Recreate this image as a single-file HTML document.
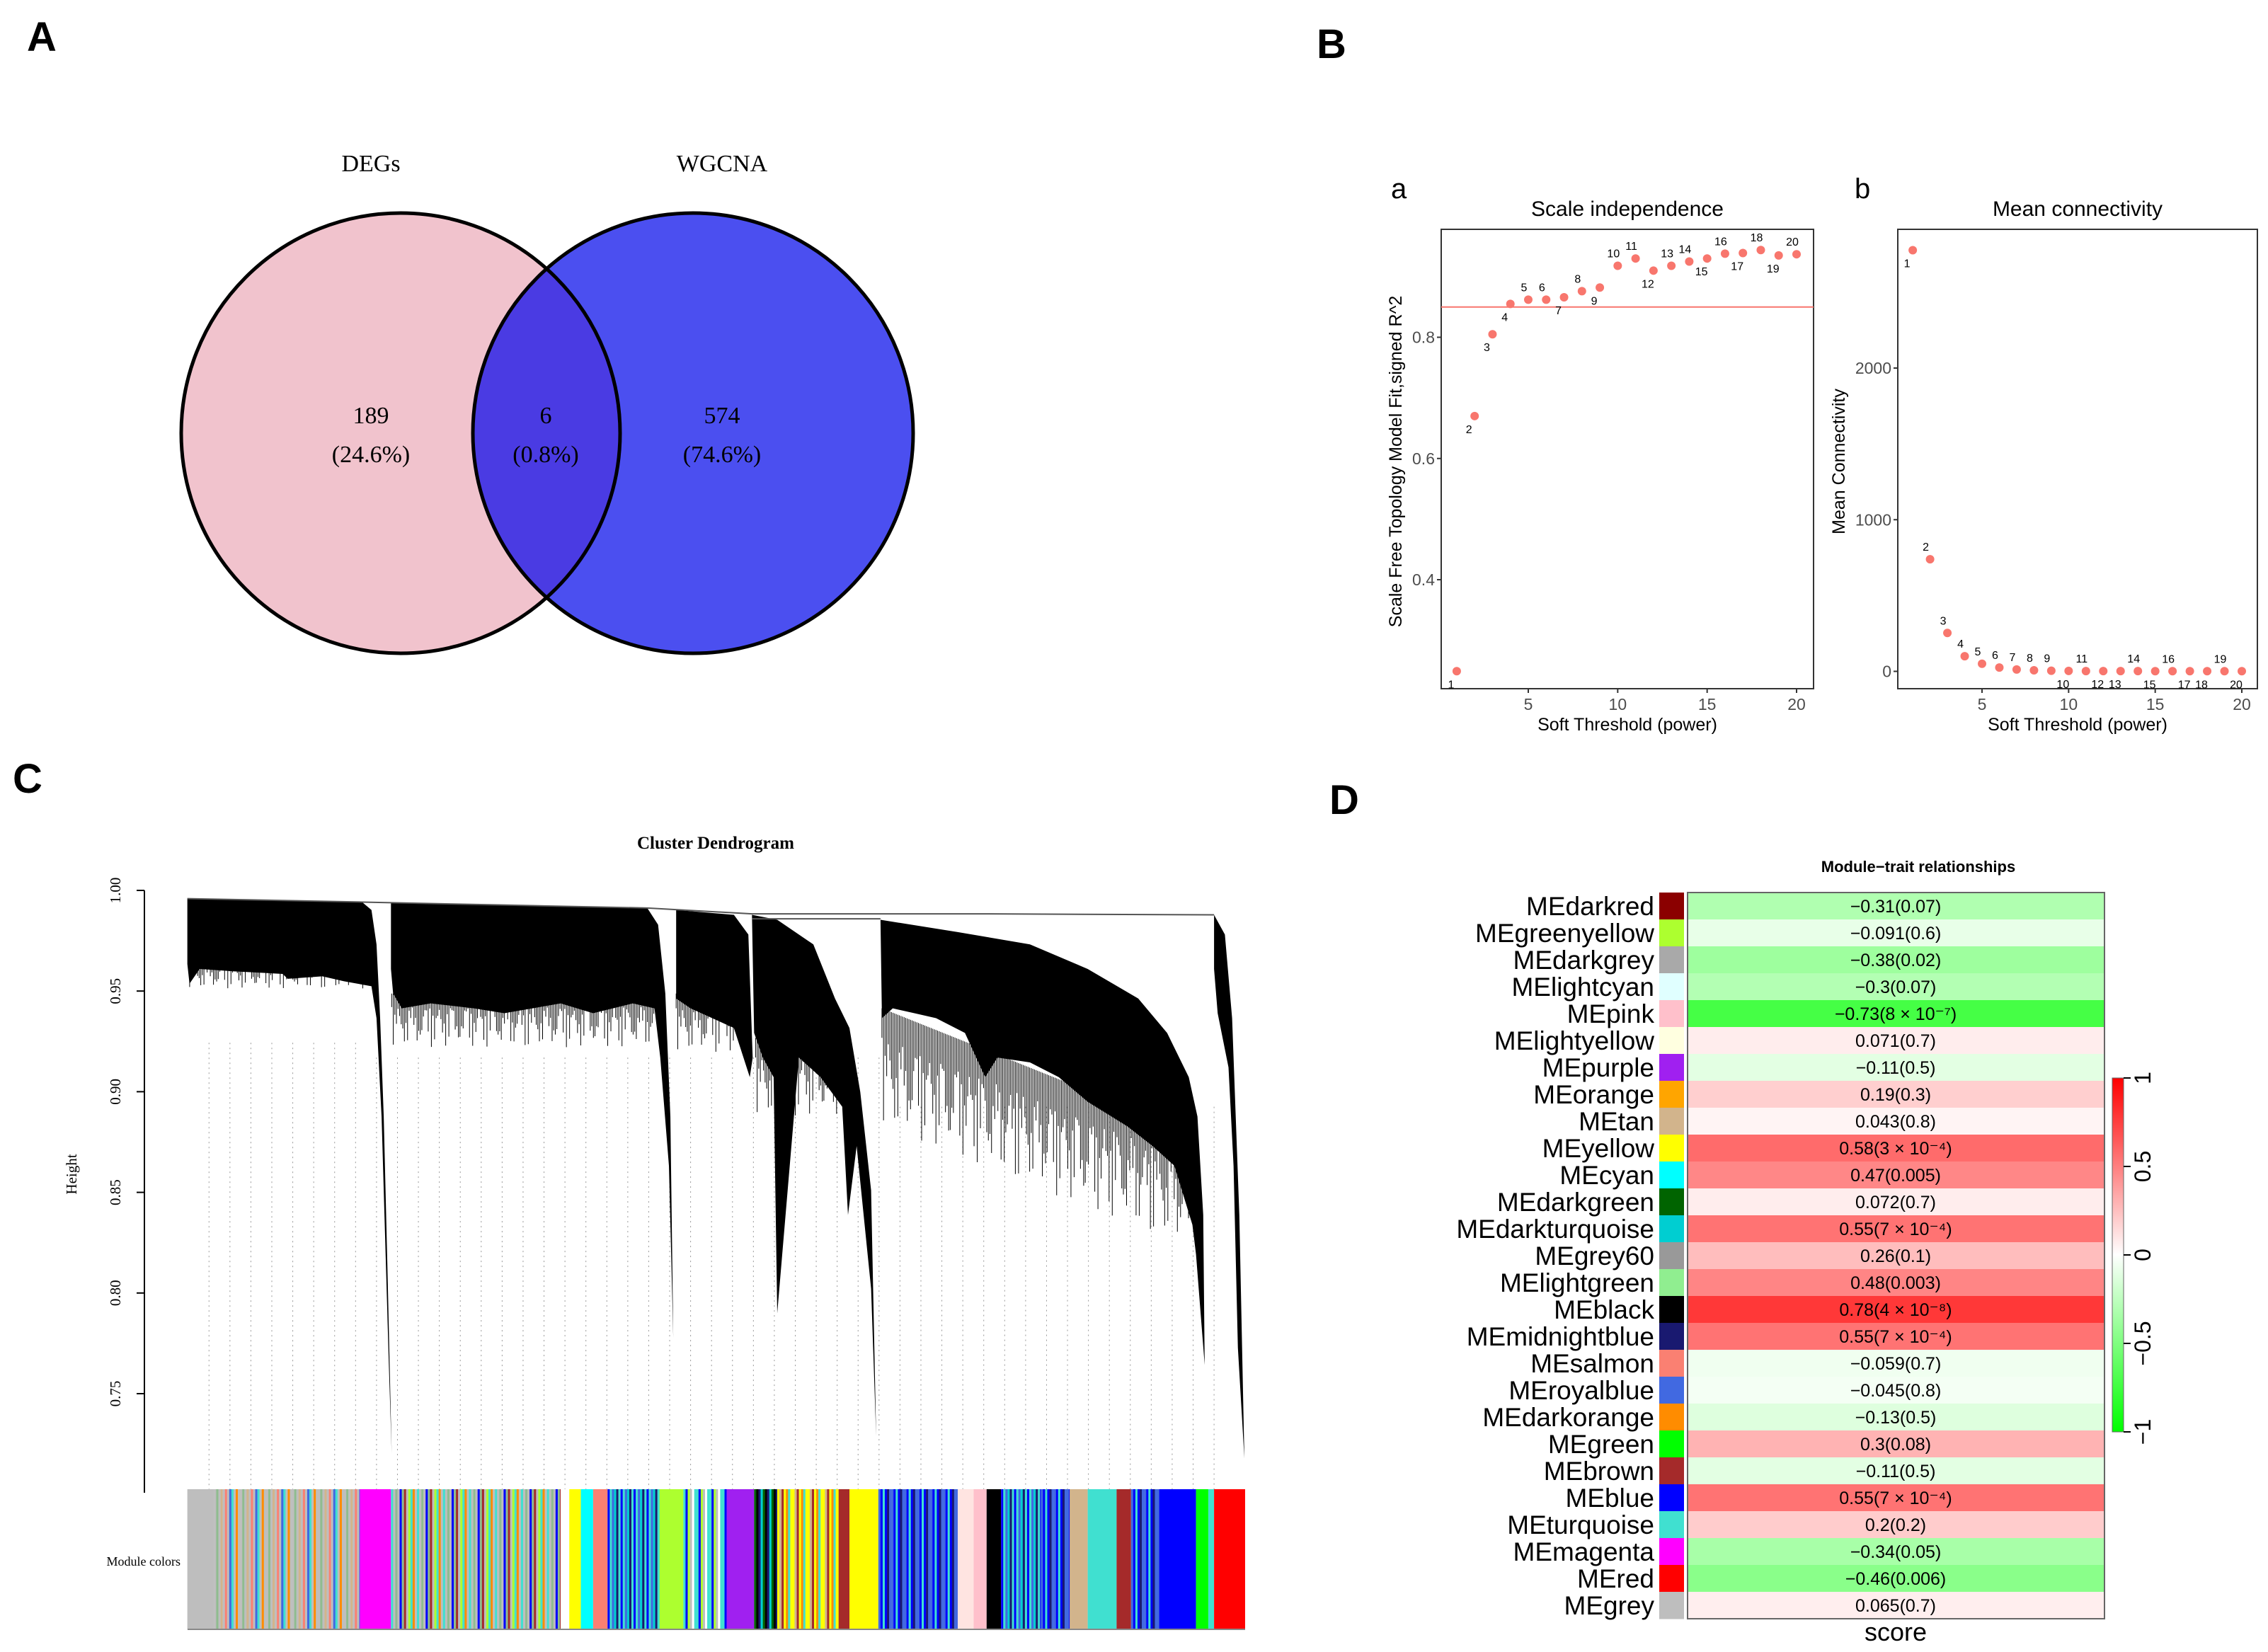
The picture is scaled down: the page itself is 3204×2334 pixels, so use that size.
<!DOCTYPE html>
<html><head><meta charset="utf-8"><style>
html,body{margin:0;padding:0;background:#fff}
svg{display:block}
.serif{font-family:"Liberation Serif",serif}
.sans{font-family:"Liberation Sans",sans-serif}
</style></head><body>
<svg id="fig" width="3204" height="2334" viewBox="0 0 3204 2334" xmlns="http://www.w3.org/2000/svg">
<rect width="3204" height="2334" fill="#fff"/>
<text x="38" y="72" class="sans" font-size="58" font-weight="bold">A</text>
<text x="1860" y="82" class="sans" font-size="58" font-weight="bold">B</text>
<text x="18" y="1120" class="sans" font-size="58" font-weight="bold">C</text>
<text x="1878" y="1150" class="sans" font-size="58" font-weight="bold">D</text>

<g>
<defs><clipPath id="clipL"><ellipse cx="566" cy="612" rx="310" ry="311"/></clipPath></defs>
<ellipse cx="566" cy="612" rx="310" ry="311" fill="#f1c3cd"/>
<ellipse cx="979" cy="612" rx="311" ry="311" fill="#4b4ff0"/>
<ellipse cx="979" cy="612" rx="311" ry="311" fill="#4a3be3" clip-path="url(#clipL)"/>
<ellipse cx="566" cy="612" rx="310" ry="311" fill="none" stroke="#000" stroke-width="5"/>
<ellipse cx="979" cy="612" rx="311" ry="311" fill="none" stroke="#000" stroke-width="5"/>
<g class="serif" font-size="34" text-anchor="middle">
<text x="524" y="242">DEGs</text>
<text x="1020" y="242">WGCNA</text>
<text x="524" y="598">189</text>
<text x="524" y="653">(24.6%)</text>
<text x="771" y="598">6</text>
<text x="771" y="653">(0.8%)</text>
<text x="1020" y="598">574</text>
<text x="1020" y="653">(74.6%)</text>
</g></g>

<g id="panelB"></g>

<g id="panelC">
<text x="1011" y="1199" class="serif" font-size="25" font-weight="bold" text-anchor="middle">Cluster Dendrogram</text>
<line x1="204" y1="1258" x2="204" y2="2109" stroke="#000" stroke-width="2"/>
<text transform="translate(108,1659) rotate(-90)" class="serif" font-size="21" text-anchor="middle">Height</text>
<text x="255" y="2212" class="serif" font-size="18" text-anchor="end">Module colors</text>
</g>

<g id="panelD">
<text x="2710" y="1232" class="sans" font-size="22" font-weight="bold" text-anchor="middle">Module−trait relationships</text>
<text x="2678" y="2318" class="sans" font-size="36" text-anchor="middle">score</text>
</g>
</svg>
<script>
var NS='http://www.w3.org/2000/svg';
function mk(tag,attrs,parent,txt){var e=document.createElementNS(NS,tag);for(var k in attrs)e.setAttribute(k,attrs[k]);if(txt!==undefined)e.textContent=txt;parent.appendChild(e);return e;}

/* ---------- Panel B data ---------- */
var powers=[1,2,3,4,5,6,7,8,9,10,11,12,13,14,15,16,17,18,19,20];
var sftR2=[0.249,0.670,0.805,0.855,0.862,0.862,0.866,0.876,0.882,0.918,0.930,0.910,0.918,0.925,0.930,0.938,0.939,0.944,0.935,0.937];
var meanK=[2777,739,253,100,50,25,12,7,4,3,2,2,2,2,1,1,1,1,1,1];
var r2Ticks=[0.4,0.6,0.8];
var kTicks=[0,1000,2000];
var xTicks=[5,10,15,20];
var r2Cut=[0.85];
var labA=[1,1,1,1,-1,-1,1,-1,1,-1,-1,1,-1,-1,1,-1,1,-1,1,-1];
var labB=[1,-1,-1,-1,-1,-1,-1,-1,-1,1,-1,1,1,-1,1,-1,1,1,-1,1];

var B=document.getElementById('panelB');
function scatter(o){
  var g=mk('g',{},B);
  
  
  var xs=function(v){return o.x0+(v-5)*(o.x20-o.x0)/15;};
  var ys=function(v){return o.yA+(v-o.vA)*(o.yB-o.yA)/(o.vB-o.vA);};
  mk('text',{x:o.lx,y:280,'font-size':40,class:'sans'},g,o.letter);
  var t=mk('text',{x:(o.bx1+o.bx2)/2,y:305,'font-size':30,class:'sans','text-anchor':'middle'},g,o.title);
  
  
  var r=mk('rect',{x:o.bx1,y:324,width:o.bx2-o.bx1,height:649,fill:'none',stroke:'#333','stroke-width':2},g);
  
  
  o.yt.forEach(function(v){var y=ys(v);
    mk('line',{x1:o.bx1-6,x2:o.bx1,y1:y,y2:y,stroke:'#333','stroke-width':2},g);
    var tt=mk('text',{x:o.bx1-9,y:y+8,'font-size':23,class:'sans',fill:'#4d4d4d','text-anchor':'end'},g,String(v));
    
    
  });
  xTicks.forEach(function(v){var x=xs(v);
    mk('line',{x1:x,x2:x,y1:973,y2:979,stroke:'#333','stroke-width':2},g);
    var tt=mk('text',{x:x,y:1003,'font-size':23,class:'sans',fill:'#4d4d4d','text-anchor':'middle'},g,String(v));
    
    
  });
  var xl=mk('text',{x:(o.bx1+o.bx2)/2,y:1032,'font-size':25,class:'sans','text-anchor':'middle'},g,'Soft Threshold (power)');
  
  
  var yl=mk('text',{transform:'translate('+o.ylx+','+o.yly+') rotate(-90)','font-size':25,class:'sans','text-anchor':'middle'},g,o.ytitle);
  
  
  if(o.cut){o.cut.forEach(function(c){var l=mk('line',{x1:o.bx1,x2:o.bx2,y1:ys(c),y2:ys(c),stroke:'#f8766d','stroke-width':2},g);
    
    });}
  powers.forEach(function(p,i){var x=xs(p),y=ys(o.vals[i]);
    var c=mk('circle',{cx:x,cy:y,r:6,fill:'#f8766d'},g);
    
    
    var d=o.lab[i];
    var lt=mk('text',{x:x-(d>0?8:6),y:y+(d>0?24:-12),'font-size':16,class:'sans','text-anchor':'middle'},g,String(p));
    
    
  });
}
scatter({name:'scale-independence-plot',letter:'a',lx:1965,title:'Scale independence',bx1:2036,bx2:2562,x0:2159,x20:2538,yA:476.5,vA:0.8,yB:819,vB:0.4,yt:r2Ticks,vals:sftR2,cut:r2Cut,lab:labA,ylx:1980,yly:652,ytitle:'Scale Free Topology Model Fit,signed R^2'});
scatter({name:'mean-connectivity-plot',letter:'b',lx:2620,title:'Mean connectivity',bx1:2681,bx2:3189,x0:2800,x20:3167,yA:948.5,vA:0,yB:520,vB:2000,yt:kTicks,vals:meanK,cut:null,lab:labB,ylx:2606,yly:652,ytitle:'Mean Connectivity'});

/* ---------- Panel C ---------- */
var heightTicks=[1.00,0.95,0.90,0.85,0.80,0.75];
var C=document.getElementById('panelC');
function hy(v){return 1258+(1.00-v)*(1969-1258)/0.25;}
heightTicks.forEach(function(v){var y=hy(v);
  mk('line',{x1:193,x2:204,y1:y,y2:y,stroke:'#000','stroke-width':2},C);
  var t=mk('text',{transform:'translate(170,'+y+') rotate(-90)','font-size':21,class:'serif','text-anchor':'middle'},C,v.toFixed(2));
  
  
});
var dg=mk('g',{transform:'matrix(1.02,0,0,0.695,180,1230)'},C);


for(var x=113;x<1525;x+=29){mk('line',{x1:x,x2:x,y1:(x<330?350:(x<1050?380:480)),y2:1262,stroke:'#999','stroke-width':1,'stroke-dasharray':'2,5','vector-effect':'non-scaling-stroke'},dg);}
var polys=[
'M83,57 L325,64 L338,80 L345,150 L350,300 L355,500 L360,800 L366,1185 L362,1000 L352,500 L345,300 L338,235 L300,225 L270,215 L222,220 L215,210 L150,205 L100,200 L86,230 L83,190 Z',
'M365,66 L720,76 L735,110 L745,250 L752,500 L756,950 L750,600 L738,380 L730,280 L700,270 L645,290 L600,270 L522,290 L480,280 L420,270 L380,280 L368,250 L365,200 Z',
'M760,80 L840,90 L860,130 L866,380 L862,420 L840,320 L810,300 L780,280 L760,260 Z',
'M865,90 L900,100 L950,150 L980,260 L1000,320 L1015,450 L1030,650 L1037,1150 L1030,850 L1010,560 L998,700 L990,480 L960,420 L930,380 L900,900 L895,420 L880,380 L868,330 Z',
'M1043,100 L1150,125 L1250,150 L1330,200 L1400,260 L1440,330 L1470,420 L1482,500 L1490,700 L1492,1005 L1480,780 L1475,720 L1450,600 L1420,560 L1385,520 L1330,470 L1290,420 L1250,390 L1205,380 L1188,420 L1160,330 L1120,300 L1090,290 L1060,280 L1045,300 Z',
'M1505,90 L1520,130 L1530,300 L1535,500 L1540,700 L1547,1195 L1538,970 L1532,600 L1525,400 L1510,290 L1505,200 Z'];
polys.forEach(function(d){var p=mk('path',{d:d,fill:'#000'},dg);
  
  });
/* leaf hairlines hanging below the dense branch masses */
var hair=mk('g',{stroke:'#000','stroke-width':1,'vector-effect':'non-scaling-stroke'},dg);
var bands=[[84,330,200,60],[366,735,270,110],[760,862,270,120],[870,1000,360,160],[1045,1470,300,240]];
bands.forEach(function(b){var k=0;for(var x=b[0];x<b[1];x+=2.2,k++){var L=b[3]*(0.25+0.75*Math.abs(Math.sin(k*1.7)*Math.cos(k*0.37)));var t=b[2]+(x-b[0])/(b[1]-b[0])*(b[0]>1000?250:0)-20;mk('line',{x1:x,x2:x,y1:t,y2:t+L,'vector-effect':'non-scaling-stroke'},hair);}});
mk('polyline',{points:'83,57 325,64 520,70 720,76 865,88 1190,88 1505,90',fill:'none',stroke:'#555','stroke-width':2,'vector-effect':'non-scaling-stroke'},dg);
mk('line',{x1:865,x2:1043,y1:98,y2:98,stroke:'#555','stroke-width':2,'vector-effect':'non-scaling-stroke'},dg);

var segStart=[83,120,322,365,600,612,628,645,665,737,770,830,868,900,985,1000,1040,1150,1172,1190,1210,1265,1305,1330,1370,1390,1430,1480,1497,1505];
var segColor=['#bebebe','mix1','#ff00ff','mix2','#ffffff','#ffff00','#00ffff','#fa8072','mix3','#adff2f','mix4','#a020f0','mix5','mix6','#a52a2a','#ffff00','mix7','#ffe4e1','#ffc0cb','#000000','mix3','mix7','#d2b48c','#40e0d0','#a52a2a','mix7','#0000ff','#00ff00','#40e0d0','#ff0000'];
var mixes={mix1:['#bebebe','#8fbc8f','#bebebe','#d2b48c','#bebebe','#fa8072','#bebebe','#4169e1','#40e0d0','#bebebe','#ff8c00','#bebebe'],
mix2:['#40e0d0','#bebebe','#8fbc8f','#bebebe','#0000ff','#8fbc8f','#a52a2a','#bebebe','#adff2f','#40e0d0','#ff8c00','#bebebe'],
mix3:['#0000ff','#40e0d0','#4169e1','#00ced1','#191970','#40e0d0'],
mix4:['#40e0d0','#0000ff','#adff2f','#bebebe','#ffffff','#40e0d0'],
mix5:['#006400','#000000','#191970','#00ced1'],
mix6:['#ffff00','#d2b48c','#a52a2a','#ffff00','#ff8c00','#40e0d0','#ffff00'],
mix7:['#4169e1','#0000ff','#40e0d0','#0000ff','#191970','#4169e1']};
var cb=mk('g',{},C);


function bx(z){return 180+1.02*z;}
segStart.forEach(function(s,i){var e=i+1<segStart.length?segStart[i+1]:1548;var c=segColor[i];
  if(mixes[c]){var arr=mixes[c],k=0;for(var z=s;z<e;z+=3,k++){mk('rect',{x:bx(z),y:2104,width:3.2*1.02,height:198,fill:arr[k%arr.length]},cb);}}
  else{var r=mk('rect',{x:bx(s),y:2104,width:(e-s)*1.02,height:198,fill:c},cb);
    
    }
});
mk('line',{x1:265,x2:1759,y1:2302,y2:2302,stroke:'#888','stroke-width':2},cb);

/* ---------- Panel D ---------- */
var modules=['MEdarkred','MEgreenyellow','MEdarkgrey','MElightcyan','MEpink','MElightyellow','MEpurple','MEorange','MEtan','MEyellow','MEcyan','MEdarkgreen','MEdarkturquoise','MEgrey60','MElightgreen','MEblack','MEmidnightblue','MEsalmon','MEroyalblue','MEdarkorange','MEgreen','MEbrown','MEblue','MEturquoise','MEmagenta','MEred','MEgrey'];
var moduleColors=['#8b0000','#adff2f','#a9a9a9','#e0ffff','#ffc0cb','#ffffe0','#a020f0','#ffa500','#d2b48c','#ffff00','#00ffff','#006400','#00ced1','#999999','#90ee90','#000000','#191970','#fa8072','#4169e1','#ff8c00','#00ff00','#a52a2a','#0000ff','#40e0d0','#ff00ff','#ff0000','#bebebe'];
var corr=[-0.31,-0.091,-0.38,-0.3,-0.73,0.071,-0.11,0.19,0.043,0.58,0.47,0.072,0.55,0.26,0.48,0.78,0.55,-0.059,-0.045,-0.13,0.3,-0.11,0.55,0.2,-0.34,-0.46,0.065];
var pvals=['0.07','0.6','0.02','0.07','8 × 10⁻⁷','0.7','0.5','0.3','0.8','3 × 10⁻⁴','0.005','0.7','7 × 10⁻⁴','0.1','0.003','4 × 10⁻⁸','7 × 10⁻⁴','0.7','0.8','0.5','0.08','0.5','7 × 10⁻⁴','0.2','0.05','0.006','0.7'];
var cbTicks=[1,0.5,0,-0.5,-1];
var D=document.getElementById('panelD');
function col(v){var a=Math.min(1,Math.abs(v));var w=Math.round(255*(1-a));return v<0?'rgb('+w+',255,'+w+')':'rgb(255,'+w+','+w+')';}
var hmTop=1261,rh=(2287-1261)/modules.length;
modules.forEach(function(m,i){var y=hmTop+i*rh;
  var c=mk('rect',{x:2384,y:y,width:589,height:rh+0.5,fill:col(corr[i])},D);
  
  
  var sw=mk('rect',{x:2344,y:y,width:35,height:rh+0.5,fill:moduleColors[i]},D);
  
  
  var l=mk('text',{x:2337,y:y+rh/2+13,'font-size':37,class:'sans','text-anchor':'end'},D,m);
  
  
  var s=(corr[i]<0?'−'+String(-corr[i]):String(corr[i]))+'('+pvals[i]+')';
  var v=mk('text',{x:2678,y:y+rh/2+9,'font-size':25,class:'sans','text-anchor':'middle'},D,s);
  
  
});
mk('rect',{x:2384,y:1261,width:589,height:1026,fill:'none',stroke:'#666','stroke-width':2},D);
var gd=mk('linearGradient',{id:'cbg',x1:0,y1:0,x2:0,y2:1},D);
mk('stop',{offset:'0','stop-color':'#ff0000'},gd);mk('stop',{offset:'0.5','stop-color':'#ffffff'},gd);mk('stop',{offset:'1','stop-color':'#00ff00'},gd);
var bar=mk('rect',{x:2984,y:1523,width:16,height:500,fill:'url(#cbg)',stroke:'#666','stroke-width':1},D);


cbTicks.forEach(function(v){var y=1773-v*250;
  mk('line',{x1:3000,x2:3010,y1:y,y2:y,stroke:'#000','stroke-width':2},D);
  var t=mk('text',{transform:'translate(3038,'+y+') rotate(-90)','font-size':32,class:'sans','text-anchor':'middle'},D,v<0?'−'+(-v):String(v));
  
  
});
</script>
</body></html>
